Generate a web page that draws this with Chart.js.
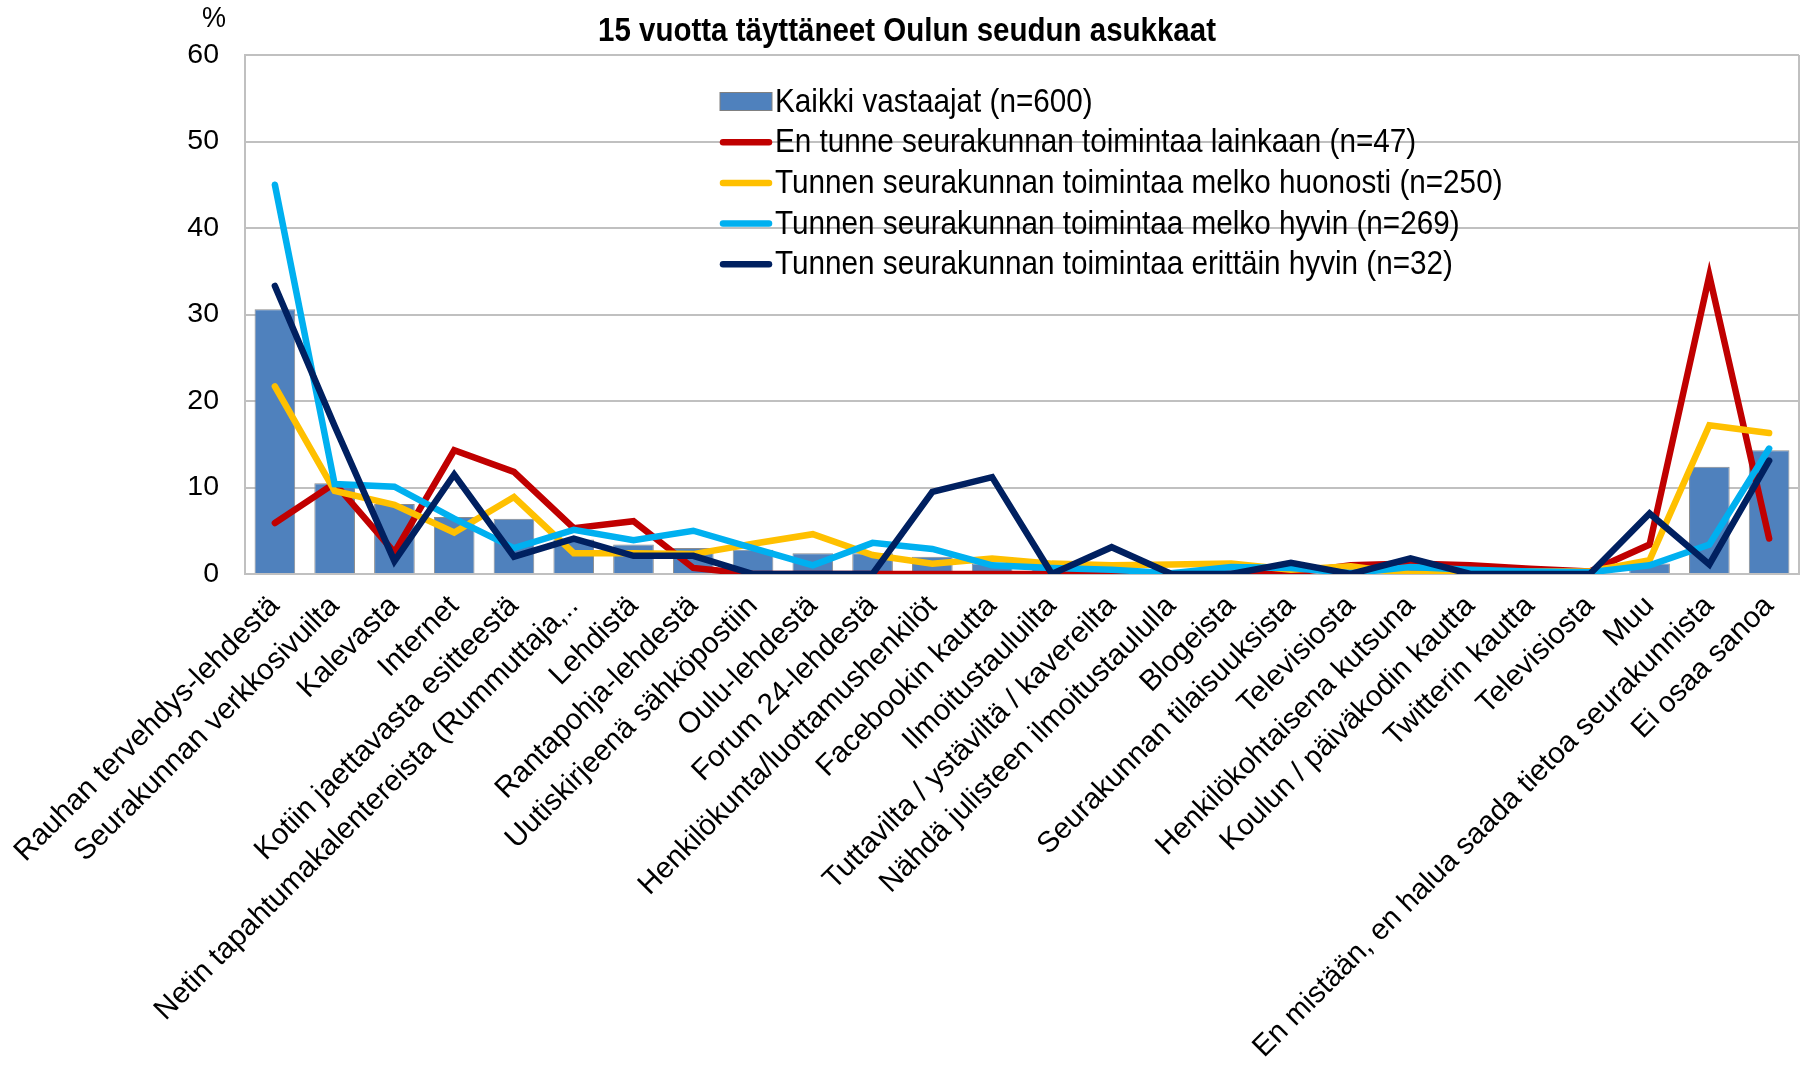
<!DOCTYPE html>
<html>
<head>
<meta charset="utf-8">
<title>Tiedonlähteet</title>
<script src="https://cdn.jsdelivr.net/npm/chart.js@4.4.0/dist/chart.umd.min.js"></script>
<style>
  html, body { margin: 0; padding: 0; background: #fff; }
  #wrap { width: 1814px; height: 1067px; }
</style>
</head>
<body>
<div id="wrap"><canvas id="sourcesChart" width="1814" height="1067"></canvas></div>
<script>
'use strict';
var chartTitle = '15 vuotta täyttäneet Oulun seudun asukkaat';
var unitLabel = '%';

var categories = ['Rauhan tervehdys-lehdestä', 'Seurakunnan verkkosivuilta', 'Kalevasta', 'Internet',
  'Kotiin jaettavasta esitteestä', 'Netin tapahtumakalentereista (Rummuttaja,..', 'Lehdistä',
  'Rantapohja-lehdestä', 'Uutiskirjeenä sähköpostiin', 'Oulu-lehdestä', 'Forum 24-lehdestä',
  'Henkilökunta/luottamushenkilöt', 'Facebookin kautta', 'Ilmoitustauluilta',
  'Tuttavilta / ystäviltä / kavereilta', 'Nähdä julisteen ilmoitustaululla', 'Blogeista',
  'Seurakunnan tilaisuuksista', 'Televisiosta', 'Henkilökohtaisena kutsuna',
  'Koulun / päiväkodin kautta', 'Twitterin kautta', 'Televisiosta', 'Muu',
  'En mistään, en halua saada tietoa seurakunnista', 'Ei osaa sanoa'];

var seriesNames = ['Kaikki vastaajat (n=600)',
  'En tunne seurakunnan toimintaa lainkaan (n=47)',
  'Tunnen seurakunnan toimintaa melko huonosti (n=250)',
  'Tunnen seurakunnan toimintaa melko hyvin (n=269)',
  'Tunnen seurakunnan toimintaa erittäin hyvin (n=32)'];

var allRespondents = [30.6, 10.5, 8.1, 6.6, 6.4, 4.0, 3.4, 3.0, 2.8, 2.4, 2.4, 2.0, 1.2,
  0.6, 0.7, 0.5, 0.6, 0.7, 0.6, 0.9, 0.3, 0.2, 0.2, 1.2, 12.4, 14.3];
var notAtAll = [5.9, 10.5, 2.5, 14.3, 11.8, 5.3, 6.1, 0.7, 0, 0, 0, 0, 0,
  0, 0, 0, 0, 0.1, 1.0, 1.2, 1.0, 0.6, 0.3, 3.4, 34.5, 4.1];
var ratherPoorly = [21.7, 9.6, 8.0, 4.8, 8.9, 2.4, 2.4, 2.3, 3.5, 4.6, 2.2, 1.2, 1.8,
  1.2, 1.0, 1.1, 1.2, 0.5, 0.9, 0, 0, 0.3, 0.3, 1.6, 17.2, 16.3];
var ratherWell = [45.0, 10.4, 10.1, 6.4, 3.0, 5.1, 3.9, 5.0, 3.0, 1.0, 3.6, 2.9, 1.0,
  0.7, 0.5, 0.1, 0.8, 0.7, 0.1, 0.8, 0.5, 0.3, 0.2, 1.0, 3.4, 14.5];
var veryWell = [33.3, 17.1, 1.5, 11.5, 2.0, 4.1, 2.1, 2.1, 0, 0, 0, 9.5, 11.2,
  0, 3.1, 0, 0, 1.3, 0, 1.8, 0, 0, 0, 7.0, 1.1, 13.1];

var yMin = 0;
var yMax = 60;
var yStep = 10;

var seriesColors = ['#4F81BD', '#C00000', '#FFC000', '#00B0F0', '#002060'];
var fontFamily = '"Liberation Sans", Arial, Helvetica, sans-serif';
var gridColor = '#c0c0c0';

// draws text a bit taller than the font's normal proportions
function tallText(ctx, text, x, y, stretch){
  ctx.save();
  ctx.translate(x, y);
  ctx.scale(1, stretch);
  ctx.fillText(text, 0, 0);
  ctx.restore();
}

// title, % sign and the frame on the right side of the plot
var decorPlugin = {
  id: 'decor',
  beforeDatasetsDraw: function(chart){
    var ctx = chart.ctx;
    var area = chart.chartArea;
    ctx.save();
    ctx.strokeStyle = gridColor;
    ctx.lineWidth = 2;
    ctx.beginPath();
    ctx.moveTo(area.right, area.top);
    ctx.lineTo(area.right, area.bottom);
    ctx.stroke();
    ctx.restore();
  },
  afterDraw: function(chart){
    var ctx = chart.ctx;
    var area = chart.chartArea;
    ctx.save();
    ctx.fillStyle = '#000';
    ctx.textBaseline = 'middle';
    ctx.textAlign = 'center';
    ctx.font = 'bold 29.5px ' + fontFamily;
    tallText(ctx, chartTitle, chart.width / 2, 32, 1.12);
    ctx.font = '27px ' + fontFamily;
    tallText(ctx, unitLabel, area.left - 31, area.top - 36, 1.12);
    ctx.restore();
  }
};

// legend sits inside the plot area
var legendPlugin = {
  id: 'innerLegend',
  afterDraw: function(chart){
    var ctx = chart.ctx;
    var area = chart.chartArea;
    var x = area.left + 475;
    var y = area.top + 46.5;
    var rowHeight = 40.7;
    var swatch = 52;
    ctx.save();
    ctx.font = '29.7px ' + fontFamily;
    ctx.textBaseline = 'middle';
    ctx.textAlign = 'left';
    chart.data.datasets.forEach(function(ds, i){
      var cy = y + i * rowHeight;
      if (ds.type === 'bar'){
        ctx.fillStyle = ds.backgroundColor;
        ctx.fillRect(x, cy - 9, swatch, 18);
        ctx.strokeStyle = '#808080';
        ctx.lineWidth = 1;
        ctx.strokeRect(x, cy - 9, swatch, 18);
      } else {
        ctx.strokeStyle = ds.borderColor;
        ctx.lineWidth = 6.5;
        ctx.lineCap = 'round';
        ctx.beginPath();
        ctx.moveTo(x + 3, cy);
        ctx.lineTo(x + swatch - 3, cy);
        ctx.stroke();
      }
      ctx.fillStyle = '#000';
      tallText(ctx, ds.label, x + swatch + 3, cy + 1, 1.12);
    });
    ctx.restore();
  }
};

function lineSet(name, values, color, order){
  return {
    type: 'line',
    label: name,
    data: values,
    borderColor: color,
    backgroundColor: color,
    borderWidth: 6.5,
    borderCapStyle: 'round',
    borderJoinStyle: 'miter',
    pointRadius: 0,
    pointHoverRadius: 0,
    tension: 0,
    fill: false,
    order: order
  };
}

var ctx = document.getElementById('sourcesChart').getContext('2d');
var chart = new Chart(ctx, {
  type: 'bar',
  data: {
    labels: categories,
    datasets: [{
      type: 'bar',
      label: seriesNames[0],
      data: allRespondents,
      backgroundColor: seriesColors[0],
      borderColor: '#8c8c8c',
      borderWidth: 1,
      categoryPercentage: 1,
      barPercentage: 0.68,
      order: 5
    },
    lineSet(seriesNames[1], notAtAll, seriesColors[1], 4),
    lineSet(seriesNames[2], ratherPoorly, seriesColors[2], 3),
    lineSet(seriesNames[3], ratherWell, seriesColors[3], 2),
    lineSet(seriesNames[4], veryWell, seriesColors[4], 1)
    ]
  },
  options: {
    responsive: false,
    animation: false,
    layout: { padding: { top: 55, right: 15, bottom: 0, left: 0 } },
    plugins: {
      legend: { display: false },
      title: { display: false },
      tooltip: { enabled: false }
    },
    scales: {
      x: {
        grid: { display: false, drawTicks: false },
        border: { display: true, color: gridColor, width: 2 },
        ticks: {
          autoSkip: false,
          minRotation: 45,
          maxRotation: 45,
          padding: 15,
          color: '#000',
          font: { family: fontFamily, size: 29.5 }
        },
        afterFit: function(scale){
          scale.height = 1067 - 574;
          scale.paddingLeft = 0;
          scale.paddingRight = 0;
        }
      },
      y: {
        min: yMin,
        max: yMax,
        grid: { color: gridColor, lineWidth: 2, drawTicks: false },
        border: { display: true, color: gridColor, width: 2 },
        ticks: {
          stepSize: yStep,
          padding: 26,
          color: '#000',
          font: { family: fontFamily, size: 28.5 }
        },
        afterFit: function(scale){
          scale.width = 245;
        }
      }
    }
  },
  plugins: [decorPlugin, legendPlugin]
});
</script>
</body>
</html>
